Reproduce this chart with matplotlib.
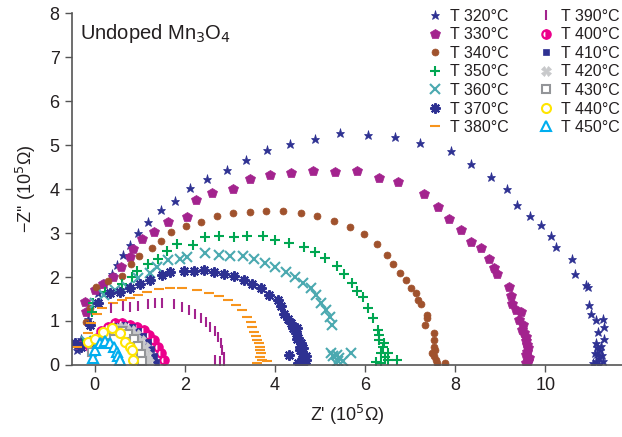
import matplotlib
matplotlib.use("Agg")
import matplotlib.pyplot as plt

# ---------------------------------------------------------------------------
# Nyquist data (Z' and -Z'' in 1e5 Ohm)
# ---------------------------------------------------------------------------
T320_X = [-0.40, -0.30, -0.15, 0.08, 0.20, 0.38, 0.49, 0.64, 0.79, 0.97, 1.18, 1.47,
          1.78, 2.11, 2.49, 2.94, 3.36, 3.82, 4.34, 4.89, 5.44, 6.06, 6.66, 7.23,
          7.90, 8.35, 8.79, 9.14, 9.38, 9.66, 9.90, 10.13, 10.23, 10.59, 10.66, 10.90,
          10.94, 10.97, 11.01, 11.12, 11.27, 11.16, 11.31, 11.12, 11.31, 11.15, 11.22,
          11.10, 11.25, 11.18, 11.12, 11.28, 11.20, 11.05, 11.15, 11.24]
T320_Y = [0.35, 0.60, 1.05, 1.63, 1.85, 2.07, 2.27, 2.50, 2.73, 2.99, 3.25, 3.52,
          3.73, 4.03, 4.23, 4.43, 4.67, 4.88, 5.02, 5.14, 5.28, 5.23, 5.19, 5.05,
          4.87, 4.56, 4.28, 4.00, 3.64, 3.38, 3.18, 2.94, 2.68, 2.40, 2.06, 1.82,
          1.78, 1.36, 1.17, 1.02, 1.04, 0.76, 0.87, 0.49, 0.60, 0.40, 0.35,
          0.28, 0.22, 0.15, 0.10, 0.08, 0.03, 0.05, 0.25, 0.44]

T330_X = [-0.35, -0.22, -0.18, 0.02, 0.19, 0.40, 0.59, 0.79, 0.86, 1.06, 1.32, 1.63,
          2.05, 2.24, 2.60, 3.06, 3.45, 3.89, 4.35, 4.84, 5.33, 5.82, 6.32, 6.73,
          7.31, 7.62, 7.86, 8.13, 8.35, 8.58, 8.76, 8.85, 8.92, 9.20, 9.23, 9.26,
          9.34, 9.45, 9.41, 9.50, 9.49, 9.53, 9.56, 9.58, 9.60, 9.62, 9.60, 9.58,
          9.64, 9.62, 9.56]
T330_Y = [0.45, 1.44, 1.21, 1.70, 1.83, 2.00, 2.23, 2.45, 2.63, 2.86, 3.02, 3.26,
          3.37, 3.75, 3.90, 4.00, 4.22, 4.32, 4.37, 4.42, 4.39, 4.42, 4.26, 4.15,
          3.88, 3.60, 3.31, 3.07, 2.80, 2.65, 2.40, 2.21, 2.07, 1.78, 1.57, 1.39,
          1.25, 1.21, 1.02, 0.90, 0.80, 0.72, 0.64, 0.55, 0.45, 0.38, 0.30, 0.22,
          0.15, 0.08, 0.04]

T340_X = [-0.30, -0.18, -0.10, 0.04, 0.30, 0.60, 0.81, 0.99, 1.27, 1.48, 1.70, 2.03,
          2.37, 2.72, 3.07, 3.44, 3.80, 4.17, 4.58, 4.94, 5.31, 5.66, 5.98, 6.26,
          6.48, 6.63, 6.77, 6.90, 7.03, 7.12, 7.18, 7.24, 7.37, 7.38, 7.33, 7.52,
          7.53, 7.52, 7.55, 7.53, 7.60, 7.78, 7.48, 7.58]
T340_Y = [0.40, 0.98, 1.30, 1.78, 1.90, 2.03, 2.30, 2.48, 2.65, 2.83, 3.03, 3.16,
          3.25, 3.39, 3.45, 3.48, 3.51, 3.50, 3.45, 3.39, 3.27, 3.13, 2.98, 2.75,
          2.51, 2.30, 2.08, 1.93, 1.76, 1.63, 1.48, 1.39, 1.14, 1.06, 0.91, 0.72,
          0.57, 0.42, 0.35, 0.20, 0.05, 0.05, 0.28, 0.12]

T350_X = [-0.25, -0.05, -0.03, 0.23, 0.60, 0.83, 0.94, 1.18, 1.40, 1.61, 1.83, 2.18,
          2.46, 2.76, 3.09, 3.39, 3.73, 4.01, 4.32, 4.64, 4.89, 5.12, 5.38, 5.54,
          5.71, 5.83, 5.95, 6.06, 6.17, 6.29, 6.32, 6.40, 6.36, 6.51, 6.52, 6.70,
          6.25, 6.45, 6.35, 6.30, 6.42]
T350_Y = [0.50, 1.20, 1.40, 1.67, 1.85, 2.01, 2.14, 2.29, 2.42, 2.60, 2.75, 2.73,
          2.92, 2.93, 2.92, 2.93, 2.93, 2.85, 2.78, 2.69, 2.58, 2.44, 2.25, 2.07,
          1.87, 1.69, 1.55, 1.29, 1.06, 0.80, 0.57, 0.42, 0.27, 0.27, 0.11, 0.11,
          0.07, 0.18, 0.05, 0.68, 0.50]

T360_X = [-0.20, 0.00, 0.20, 0.45, 0.71, 0.97, 1.23, 1.38, 1.64, 1.90, 2.05, 2.46,
          2.76, 3.00, 3.30, 3.54, 3.79, 4.01, 4.25, 4.44, 4.62, 4.81, 4.92, 5.03,
          5.14, 5.22, 5.27, 5.25, 5.43, 5.69, 5.35, 5.50, 5.30, 5.40, 5.38]
T360_Y = [0.55, 1.40, 1.60, 1.70, 1.78, 1.97, 2.10, 2.23, 2.39, 2.42, 2.46, 2.55,
          2.51, 2.48, 2.48, 2.42, 2.32, 2.23, 2.12, 2.01, 1.87, 1.74, 1.59, 1.42,
          1.25, 1.10, 0.91, 0.27, 0.15, 0.27, 0.04, 0.10, 0.20, 0.08, 0.22]

T370_X = [-0.44, -0.30, -0.10, 0.08, 0.34, 0.56, 0.79, 1.01, 1.23, 1.50, 1.68, 1.98,
          2.20, 2.43, 2.65, 2.87, 3.10, 3.32, 3.50, 3.69, 3.88, 4.06, 4.14, 4.20,
          4.28, 4.35, 4.40, 4.46, 4.52, 4.58, 4.55, 4.61, 4.63, 4.65, 4.60, 4.32,
          4.48, 4.56, 4.68, 4.52, 4.62, 4.70, 4.50]
T370_Y = [0.49, 0.40, 0.90, 1.40, 1.63, 1.67, 1.74, 1.85, 1.94, 2.05, 2.12, 2.14,
          2.14, 2.16, 2.12, 2.07, 2.02, 1.94, 1.85, 1.74, 1.59, 1.48, 1.33, 1.17,
          1.05, 0.95, 0.84, 0.72, 0.62, 0.49, 0.40, 0.27, 0.15, 0.04, 0.10, 0.23,
          0.58, 0.33, 0.20, 0.05, 0.38, 0.12, 0.85]

T380_X = [-0.40, -0.14, -0.07, 0.05, 0.16, 0.40, 0.60, 0.79, 0.97, 1.16, 1.42, 1.68,
          1.94, 2.28, 2.54, 2.76, 2.95, 3.13, 3.28, 3.39, 3.46, 3.50, 3.53, 3.57,
          3.61, 3.64, 3.68, 3.68, 3.70, 3.72, 3.83, 3.60, 3.66]
T380_Y = [0.42, 0.72, 0.95, 1.15, 1.29, 1.40, 1.48, 1.52, 1.59, 1.67, 1.72, 1.74,
          1.74, 1.70, 1.64, 1.57, 1.48, 1.36, 1.25, 1.10, 0.98, 0.87, 0.76, 0.66,
          0.57, 0.49, 0.42, 0.34, 0.27, 0.11, 0.09, 0.04, 0.19]

T390_X = [0.36, 0.64, 0.79, 0.96, 1.18, 1.35, 1.50, 1.76, 1.94, 2.09, 2.22, 2.37,
          2.48, 2.57, 2.67, 2.74, 2.80, 2.83, 2.87, 2.88, 2.67, 2.78]
T390_Y = [1.29, 1.33, 1.31, 1.34, 1.38, 1.42, 1.42, 1.38, 1.31, 1.25, 1.16, 1.06,
          0.98, 0.87, 0.78, 0.64, 0.51, 0.34, 0.19, 0.03, 0.11, 0.08]

T400_X = [-0.10, 0.05, 0.15, 0.30, 0.45, 0.60, 0.79, 0.94, 1.09, 1.20, 1.31, 1.41,
          1.48, 1.53]
T400_Y = [0.40, 0.62, 0.78, 0.87, 0.95, 0.95, 0.92, 0.87, 0.80, 0.68, 0.57, 0.42,
          0.27, 0.11]

T410_X = [-0.05, 0.10, 0.25, 0.45, 0.65, 0.82, 0.97, 1.08, 1.18, 1.26, 1.32, 1.36]
T410_Y = [0.40, 0.62, 0.78, 0.88, 0.90, 0.86, 0.77, 0.66, 0.52, 0.37, 0.21, 0.06]

T420_X = [-0.05, 0.10, 0.25, 0.45, 0.63, 0.80, 0.93, 1.03, 1.11, 1.17, 1.20]
T420_Y = [0.35, 0.58, 0.74, 0.84, 0.86, 0.80, 0.70, 0.56, 0.40, 0.23, 0.07]

T430_X = [-0.05, 0.10, 0.25, 0.42, 0.60, 0.75, 0.87, 0.96, 1.02, 1.06]
T430_Y = [0.30, 0.52, 0.68, 0.78, 0.78, 0.71, 0.58, 0.43, 0.26, 0.08]

T440_X = [-0.14, 0.00, 0.18, 0.38, 0.56, 0.68, 0.78, 0.83, 0.86]
T440_Y = [0.53, 0.60, 0.74, 0.83, 0.72, 0.53, 0.40, 0.34, 0.11]

T450_X = [-0.03, 0.01, 0.12, 0.23, 0.34, 0.42, 0.49, 0.53, 0.56]
T450_Y = [0.15, 0.34, 0.49, 0.55, 0.49, 0.40, 0.30, 0.20, 0.11]

LABELS = ["T 320°C", "T 330°C", "T 340°C", "T 350°C", "T 360°C", "T 370°C", "T 380°C",
          "T 390°C", "T 400°C", "T 410°C", "T 420°C", "T 430°C", "T 440°C", "T 450°C"]

SERIES = [(T320_X, T320_Y), (T330_X, T330_Y), (T340_X, T340_Y), (T350_X, T350_Y),
          (T360_X, T360_Y), (T370_X, T370_Y), (T380_X, T380_Y), (T390_X, T390_Y),
          (T400_X, T400_Y), (T410_X, T410_Y), (T420_X, T420_Y), (T430_X, T430_Y),
          (T440_X, T440_Y), (T450_X, T450_Y)]

# marker, colour, size, fill
STYLES = [
    ("*",         "#2E3192", 6.5, "full"),
    ("p",         "#A3238E", 7.5, "full"),
    ("o",         "#A0522D", 5, "full"),
    ("+",         "#00A651", 7, "line"),
    ("x",         "#4BA9B0", 7, "line"),
    ((8, 2, 0),   "#2E3192", 7.5, "line"),
    ("_",         "#F7941D", 7, "line"),
    ("|",         "#A3238E", 7, "line"),
    ("o",         "#EC008C", 6, "half"),
    ("s",         "#2E3192", 5, "full"),
    ("X",         "#C8C9CB", 6.5, "full"),
    ("s",         "#939598", 5.5, "open"),
    ("o",         "#FFE500", 6.5, "open"),
    ("^",         "#00AEEF", 7.5, "open"),
]

plt.rcParams["font.family"] = ["Liberation Sans", "DejaVu Sans"]

fig = plt.figure(figsize=(6.22, 4.37), dpi=100)
ax = fig.add_axes([0.1158, 0.1648, 0.8842, 0.8052])

for (xs, ys), (mk, col, ms, fill), lab in zip(SERIES, STYLES, LABELS):
    kw = dict(linestyle="none", marker=mk, color=col, markersize=ms, label=lab)
    if fill == "half":
        kw.update(fillstyle="right", markerfacecoloralt="white", markeredgewidth=1.6)
    elif fill == "line":
        kw.update(markeredgewidth=1.5)
    elif fill == "open":
        kw.update(markerfacecolor="white", markeredgewidth=1.5)
    else:
        kw.update(markeredgewidth=0.5)
    ax.plot(xs, ys, **kw)

ax.set_xlim(-0.5, 11.7)
ax.set_ylim(0, 8)
ax.set_xticks([0, 2, 4, 6, 8, 10])
ax.set_yticks(range(0, 9))

for side in ("top", "right"):
    ax.spines[side].set_visible(False)
for side in ("left", "bottom"):
    ax.spines[side].set_color("#555555")
    ax.spines[side].set_linewidth(1.2)
ax.tick_params(direction="out", length=5, width=1, color="#555555",
               labelsize=13, labelcolor="#231F20", pad=4)

ax.set_xlabel("Z' (10$^5$Ω)", fontsize=13, color="#231F20", labelpad=6)
ax.set_ylabel("−Z'' (10$^5$Ω)", fontsize=13, color="#231F20", labelpad=8)

ax.text(0.015, 0.975, "Undoped Mn$_3$O$_4$", transform=ax.transAxes,
        fontsize=14.5, color="#231F20", va="top", ha="left")

leg = ax.legend(loc="upper right", bbox_to_anchor=(1.008, 1.03), ncol=2, frameon=False,
                fontsize=11.5, handlelength=1.0, handletextpad=0.45,
                columnspacing=1.8, labelspacing=0.22, borderaxespad=0.0)
for t in leg.get_texts():
    t.set_color("#231F20")

fig.savefig("out.png", dpi=100)
